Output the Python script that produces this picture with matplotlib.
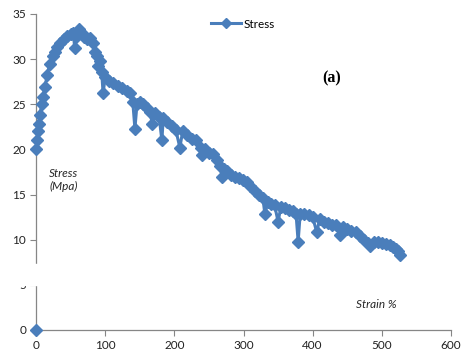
import matplotlib.pyplot as plt
from matplotlib.patches import Rectangle

# strain (%) and stress (MPa)
strain = [0, 0.5, 1.5, 3, 4, 6, 8, 10, 13, 16, 20, 24, 27, 31, 35, 40, 45, 50, 54, 56,
          58, 62, 66, 70, 74, 78, 82, 85, 88, 90, 92, 95, 97, 100, 105, 111, 118, 125,
          131, 136, 140, 143, 146, 150, 155, 160, 165, 168, 172, 178, 182, 184, 190,
          196, 202, 208, 212, 218, 225, 232, 238, 240, 245, 250, 256, 262, 266, 269,
          272, 276, 282, 288, 294, 299, 305, 310, 316, 322, 328, 331, 335, 340, 345,
          350, 354, 360, 366, 372, 376, 379, 382, 388, 395, 400, 406, 410, 416, 422,
          428, 434, 439, 444, 450, 456, 462, 468, 474, 480, 483, 488, 494, 500, 506,
          512, 516, 520, 524, 526]
stress = [0, 20.0, 21.0, 22.0, 22.8, 23.8, 25.0, 25.8, 26.9, 28.2, 29.5, 30.3, 30.8,
          31.3, 31.8, 32.2, 32.6, 32.8, 32.9, 31.2, 32.4, 33.3, 32.9, 32.5, 32.2, 32.3,
          31.8, 30.8, 30.3, 29.2, 29.8, 28.6, 26.2, 28.0, 27.6, 27.4, 27.0, 26.8, 26.5,
          26.2, 25.2, 22.3, 25.0, 25.2, 25.0, 24.6, 24.2, 22.8, 24.0, 23.6, 21.0, 23.5,
          23.0, 22.6, 22.2, 20.2, 22.0, 21.6, 21.2, 21.0, 20.2, 19.4, 20.0, 19.6, 19.5,
          18.8, 18.2, 17.0, 17.8, 17.6, 17.2, 17.0, 16.8, 16.6, 16.4, 16.0, 15.4, 15.0,
          14.6, 12.8, 14.2, 14.0, 13.8, 12.0, 13.6, 13.5, 13.3, 13.2, 12.8, 9.8, 12.9,
          12.9, 12.7, 12.5, 10.8, 12.3, 12.0, 11.8, 11.6, 11.6, 10.5, 11.4, 11.2, 11.0,
          10.8, 10.4, 10.0, 9.6, 9.3, 9.8, 9.7, 9.6, 9.5, 9.4, 9.2, 9.0, 8.7, 8.3]

x_ticks = [0, 100, 200, 300, 400, 500, 600]
y_ticks = [0, 5, 10, 15, 20, 25, 30, 35]

blue = '#4a7ebb'
axis_grey = '#868686'
W, H = 463, 354

plt.rcParams['font.family'] = ['Lato', 'DejaVu Sans']

fig = plt.figure(figsize=(W / 100, H / 100), dpi=100)
ax = fig.add_axes([36 / W, 1 - 330 / H, (451 - 36) / W, (330 - 14) / H])

# first point sits alone at the origin, the rest is the joined curve
ax.plot(strain[:1], stress[:1], 'D', color=blue, ms=6, clip_on=False, zorder=5)
ax.plot(strain[1:], stress[1:], '-D', color=blue, ms=6.5, lw=2.2, clip_on=False,
        zorder=4, label='Stress')

ax.set_xlim(0, 600)
ax.set_ylim(0, 35)
ax.set_xticks(x_ticks)
ax.set_yticks(y_ticks)
ax.tick_params(direction='out', length=4, width=0.8, color=axis_grey,
               labelsize=8.5, labelcolor='#222222', pad=3)
for side in ('top', 'right'):
    ax.spines[side].set_visible(False)
for side in ('left', 'bottom'):
    ax.spines[side].set_color(axis_grey)
    ax.spines[side].set_linewidth(0.9)

fig.legend(loc='center left', bbox_to_anchor=(211 / W, 1 - 24 / H), frameon=False,
           fontsize=8.5, handlelength=2.5, handletextpad=0.25, borderpad=0,
           borderaxespad=0, markerscale=0.8)

fig.text(332 / W, 1 - 78 / H, '(a)', family='Liberation Serif', weight='bold',
         fontsize=11.5, ha='center', va='center')
fig.text(49 / W, 1 - 180 / H, 'Stress\n(Mpa)', style='italic', fontsize=8.5,
         color='#262626', ha='left', va='center', linespacing=1.3)
fig.text(356 / W, 1 - 304 / H, 'Strain %', style='italic', fontsize=8.5,
         color='#262626', ha='left', va='center')

# white box that cuts through the y axis near 5
fig.patches.append(Rectangle((0, 1 - 285 / H), 42 / W, 21 / H,
                             transform=fig.transFigure, color='white', zorder=10))

fig.savefig('out.png', dpi=100)
